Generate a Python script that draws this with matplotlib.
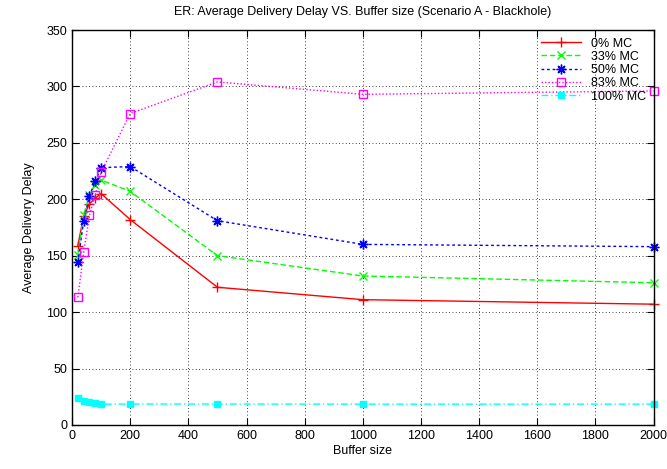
import matplotlib
matplotlib.use("Agg")
import matplotlib.pyplot as plt

plt.rcParams['font.family'] = ['Liberation Sans', 'DejaVu Sans']

# buffer sizes and average delivery delay for each MC share
buffer_size = [20, 40, 60, 80, 100, 200, 500, 1000, 2000]
mc0 = [159, 185, 196, 201, 205, 182, 122, 111, 107]
mc33 = [151, 186, 204, 213, 217, 207, 150, 132, 126]
mc50 = [144, 181, 203, 216, 228, 229, 181, 160, 158]
mc83 = [113, 153, 186, 204, 224, 276, 304, 293, 296]
mc100 = [23.5, 21.3, 20.1, 19.2, 18.3, 18.5, 18.5, 18.4, 18.4]

series = [
    (mc0, '0% MC', '#ff0000', '-', dict(marker='+', ms=7)),
    (mc33, '33% MC', '#00ff00', (0, (4, 2)), dict(marker='x', ms=6)),
    (mc50, '50% MC', '#0000ff', (0, (2, 2)), dict(marker=(8, 2, 0), ms=7)),
    (mc83, '83% MC', '#ff00ff', (0, (1, 1.5)), dict(marker='s', ms=6, mfc='none')),
    (mc100, '100% MC', '#00ffff', (0, (5, 2, 1, 2)), dict(marker='s', ms=5)),
]

fig = plt.figure(figsize=(6.67, 4.69), dpi=100)
ax = fig.add_axes([0.108, 0.094, 0.872, 0.842])

for vals, lbl, col, ls, mk in series:
    ax.plot(buffer_size, vals, color=col, linestyle=ls, lw=1, label=lbl,
            mew=1, clip_on=False, **mk)

ax.set_xlim(0, 2000)
ax.set_ylim(0, 350)
ax.set_xticks(range(0, 2001, 200))
ax.set_yticks(range(0, 351, 50))
ax.grid(True, color='black', linestyle=(0, (1, 3)), lw=0.6)
ax.tick_params(direction='in', top=True, right=True, labelsize=9, length=5)
for s in ax.spines.values():
    s.set_linewidth(1)

ax.set_title('ER: Average Delivery Delay VS. Buffer size (Scenario A - Blackhole)',
             fontsize=9, pad=11)
ax.set_xlabel('Buffer size', fontsize=9, labelpad=2)
ax.set_ylabel('Average Delivery Delay', fontsize=9, labelpad=8)

leg = ax.legend(loc='upper right', frameon=False, fontsize=9, handlelength=3.2,
                markerfirst=True, borderaxespad=0.2, labelspacing=0.1,
                handletextpad=0.8)

fig.savefig('out.png', dpi=100)
